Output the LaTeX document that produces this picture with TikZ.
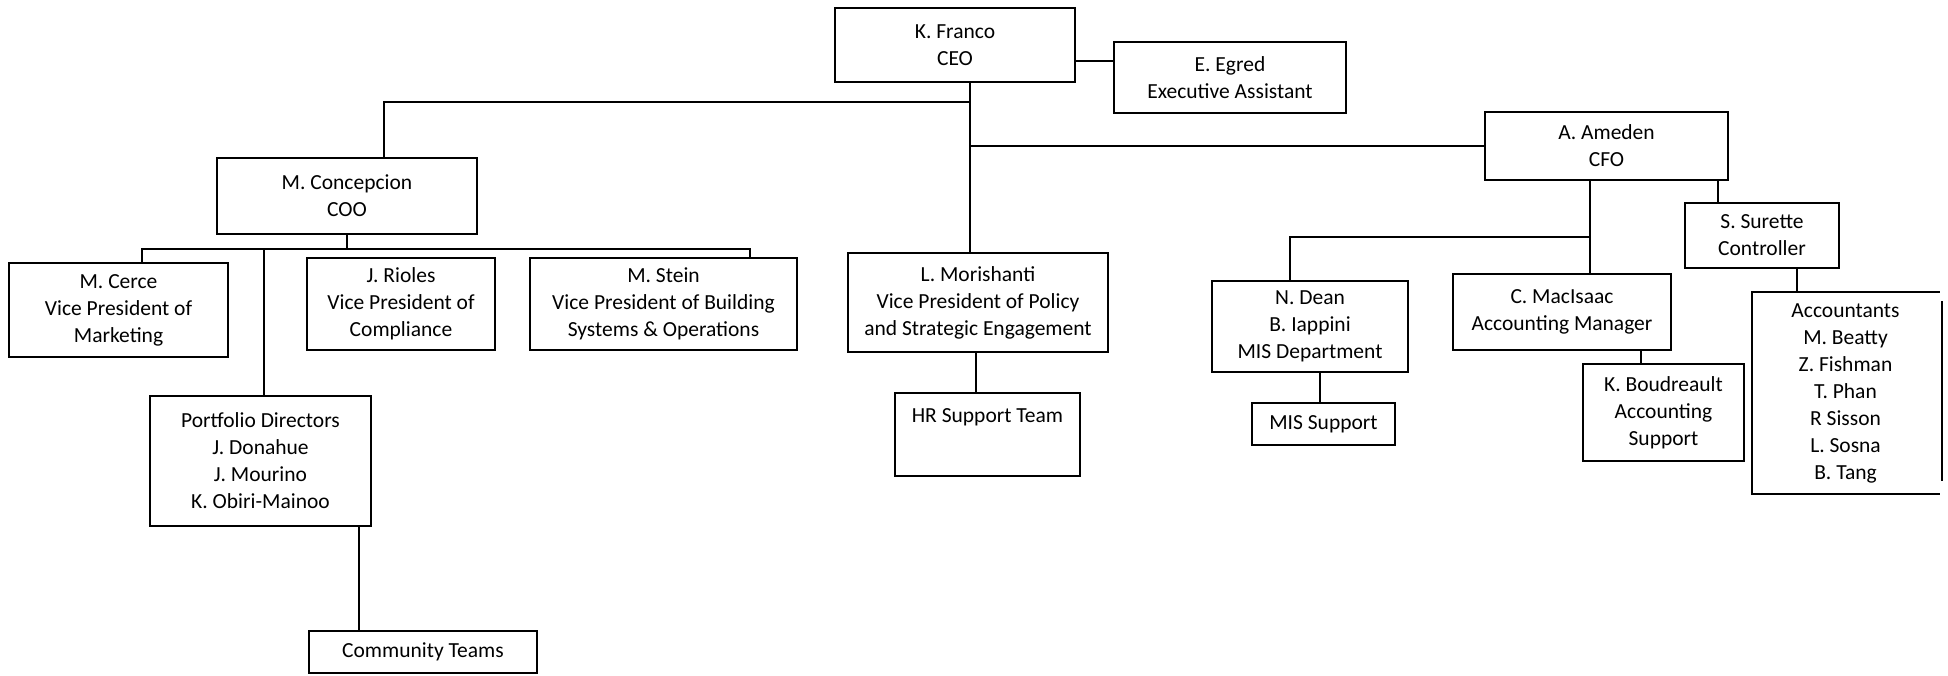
\documentclass[tikz,border=0pt]{standalone}
\usepackage{fontspec}
\setmainfont{Carlito}
\begin{document}
\begin{tikzpicture}[x=1pt,y=-1pt,
  box/.style={draw, line width=1.7pt, rectangle, inner sep=0pt, align=center,
    font=\fontsize{21.5}{27}\selectfont},
  conn/.style={line width=1.7pt},
  line cap=rect]
\useasboundingbox (0,0) rectangle (1948,675);
% nodes
\node[box, minimum width=240, minimum height=74] (ceo) at (955,45) {K. Franco\\CEO};
\node[box, minimum width=232, minimum height=71] (egred) at (1230,77.5) {E. Egred\\Executive Assistant};
\node[box, minimum width=260, minimum height=76] (coo) at (347,196) {M. Concepcion\\COO};
\node[box, minimum width=219, minimum height=94] (cerce) at (118.5,310) {M. Cerce\\Vice President of\\Marketing};
\node[box, minimum width=188, minimum height=92] (rioles) at (401,304) {J. Rioles\\Vice President of\\Compliance};
\node[box, minimum width=267, minimum height=92] (stein) at (663.5,304) {M. Stein\\Vice President of Building\\Systems \& Operations};
\node[box, minimum width=221, minimum height=130] (port) at (260.5,461) {Portfolio Directors\\J. Donahue\\J. Mourino\\K. Obiri-Mainoo};
\node[box, minimum width=228, minimum height=42] (comm) at (423,652) {Community Teams};
\node[box, minimum width=260, minimum height=99] (mori) at (978,302.5) {L. Morishanti\\Vice President of Policy\\and Strategic Engagement};
\node[box, minimum width=185, minimum height=83, text depth=37pt] (hr) at (987.5,434.5) {HR Support Team};
\node[box, minimum width=243, minimum height=68] (cfo) at (1606.5,146) {A. Ameden\\CFO};
\node[box, minimum width=196, minimum height=91] (dean) at (1310,326.5) {N. Dean\\B. Iappini\\MIS Department};
\node[box, minimum width=218, minimum height=76] (mac) at (1562,312) {C. MacIsaac\\Accounting Manager};
\node[box, minimum width=154, minimum height=65] (sur) at (1762,235.5) {S. Surette\\Controller};
\node[box, draw=none, minimum width=185, minimum height=200] (acct) at (1845.5,393) {Accountants\\M. Beatty\\Z. Fishman\\T. Phan\\R Sisson\\L. Sosna\\B. Tang};
\node[box, minimum width=143, minimum height=42] (missup) at (1323.5,424) {MIS Support};
\node[box, minimum width=161, minimum height=97] (boud) at (1663.5,412.5) {K. Boudreault\\Accounting\\Support};
% accountants open box and bracket
\draw[conn] (acct.north east) -- (acct.north west) -- (acct.south west) -- (acct.south east);
\coordinate (abt) at (1942,302);
\coordinate (abb) at (1942,480);
\draw[line width=2.4pt] (abt) -- (abb);
% coordinates for connector routes
\coordinate (tr) at (970,0);
\coordinate (lb) at (384,102);
\coordinate (ea) at (0,61);
\coordinate (bus) at (0,249);
\coordinate (busL) at (142,249);
\coordinate (busR) at (750,249);
\coordinate (pv) at (264,0);
\coordinate (pc) at (359,0);
\coordinate (hv) at (976,0);
\coordinate (ct) at (1590,0);
\coordinate (misbus) at (1290,237);
\coordinate (sv) at (1718,0);
\coordinate (av) at (1797,0);
\coordinate (dv) at (1320,0);
\coordinate (bv) at (1641,0);
% connectors
\draw[conn] (ceo.east |- ea) -- (egred.west |- ea);
\draw[conn] (ceo.south -| tr) -- (mori.north -| tr);
\draw[conn] (tr |- lb) -- (lb) -- (coo.north -| lb);
\draw[conn] (tr |- cfo.west) -- (cfo.west);
\draw[conn] (coo.south) -- (coo.south |- bus);
\draw[conn] (cerce.north -| busL) -- (busL) -- (busR) -- (stein.north -| busR);
\draw[conn] (pv |- bus) -- (port.north -| pv);
\draw[conn] (port.south -| pc) -- (comm.north -| pc);
\draw[conn] (mori.south -| hv) -- (hr.north -| hv);
\draw[conn] (cfo.south -| ct) -- (mac.north -| ct);
\draw[conn] (ct |- misbus) -- (misbus) -- (dean.north -| misbus);
\draw[conn] (cfo.south -| sv) -- (sur.north -| sv);
\draw[conn] (sur.south -| av) -- (acct.north -| av);
\draw[conn] (dean.south -| dv) -- (missup.north -| dv);
\draw[conn] (mac.south -| bv) -- (boud.north -| bv);
\end{tikzpicture}
\end{document}
